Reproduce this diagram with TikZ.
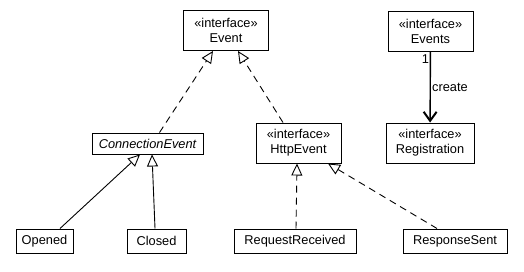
\documentclass[tikz,border=0pt]{standalone}
\usepackage{fontspec}
\setmainfont{Liberation Sans}
\usepackage{tikz}
\usetikzlibrary{arrows.meta}
\tikzset{umlbox/.style={draw, line width=1pt, inner sep=0pt, align=center, font=\fontsize{12.8}{15}\selectfont}}
\tikzset{iface/.style={umlbox, minimum height=40pt}}
\tikzset{leaf/.style={umlbox, minimum height=24pt}}
\tikzset{inh/.style={draw, line width=0.9pt, -{Triangle[open, length=12pt, width=11pt, fill=white]}}}
\tikzset{real/.style={inh, dash pattern=on 7pt off 5pt}}
\tikzset{assoc/.style={draw, line width=1.4pt, -{Straight Barb[length=9pt, width=13pt, line width=2pt]}}}
\newcommand\stereo[1]{\guillemotleft interface\guillemotright\\#1}

\begin{document}
\begin{tikzpicture}[x=1pt, y=-1pt]
	\useasboundingbox (0,0) rectangle (524,271);

	\node[iface, minimum width=85pt] (Event) at (226, 30.5) {\stereo{Event}};
	\node[iface, minimum width=85pt] (Events) at (430.5, 31) {\stereo{Events}};
	\node[iface, minimum width=88pt] (Reg) at (430, 143) {\stereo{Registration}};
	\node[iface, minimum width=85pt] (Http) at (298.5, 143) {\stereo{HttpEvent}};
	\node[umlbox, minimum width=111pt, minimum height=21pt] (Conn) at (147.5, 143.5) {\itshape ConnectionEvent};

	\node[leaf, minimum width=57pt] (Opened) at (44.5, 241) {Opened};
	\node[leaf, minimum width=59pt] (Closed) at (156.5, 241) {Closed};
	\node[leaf, minimum width=122pt] (ReqRcv) at (295, 241) {RequestReceived};
	\node[leaf, minimum width=104pt] (RespSent) at (455, 241) {ResponseSent};

	% generalisations
	\draw[inh] ([xshift=15.5pt]Opened.north) -- ([xshift=-7.5pt]Conn.south);
	\draw[inh] ([xshift=-1.5pt]Closed.north) -- ([xshift=4.5pt]Conn.south);

	% realisations
	\draw[real] ([xshift=12pt]Conn.north) -- ([xshift=-13pt]Event.south);
	\draw[real] ([xshift=-15.5pt]Http.north) -- ([xshift=12pt]Event.south);
	\draw[real] ([xshift=1pt]ReqRcv.north) -- ([xshift=-1.5pt]Http.south);
	\draw[real] ([xshift=-18pt]RespSent.north) -- ([xshift=29.5pt]Http.south);

	% factory association
	\draw[assoc] (Events) -- (Reg);
	\node[font=\fontsize{12.8}{14}\selectfont, inner sep=0pt] (one) at (425.5, 59) {1};
	\node[font=\fontsize{12.8}{14}\selectfont, inner sep=0pt, anchor=west] (create) at (432, 87) {create};
\end{tikzpicture}
\end{document}
